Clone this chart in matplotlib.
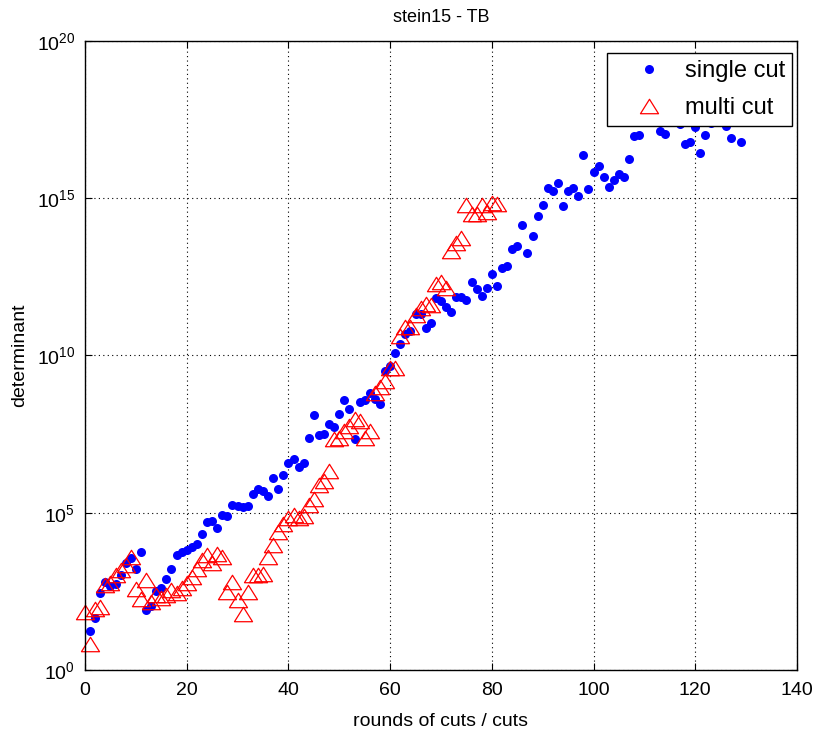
import numpy as np
import matplotlib.pyplot as plt
from matplotlib.path import Path

plt.rcParams['font.family'] = ['Liberation Sans', 'DejaVu Sans']
plt.rcParams['mathtext.default'] = 'regular'

# log10 of the determinant, one value per round
single_log = [1.23, 1.66, 2.46, 2.81, 2.68, 2.74, 3.03, 3.41, 3.57, 3.22,
              3.76, 1.91, 2.04, 2.52, 2.62, 2.90, 3.22, 3.67, 3.76, 3.83,
              3.92, 3.99, 4.31, 4.69, 4.75, 4.53, 4.94, 4.91, 5.26, 5.20,
              5.17, 5.20, 5.58, 5.77, 5.68, 5.52, 6.09, 5.77, 6.19, 6.57,
              6.70, 6.44, 6.57, 7.37, 8.10, 7.46, 7.50, 7.81, 7.72, 8.13,
              8.58, 8.29, 7.34, 8.52, 8.58, 8.80, 8.61, 8.45, 9.51, 9.67,
              10.08, 10.37, 10.69, 10.78, 11.32, 11.32, 10.88, 11.04, 11.83, 11.74,
              11.55, 11.39, 11.87, 11.87, 11.77, 12.34, 12.12, 11.90, 12.15, 12.60,
              12.22, 12.79, 12.85, 13.40, 13.49, 14.16, 13.27, 13.81, 14.45, 14.77,
              15.31, 15.22, 15.47, 14.74, 15.22, 15.31, 15.06, 16.36, 15.28, 15.82,
              16.04, 15.66, 15.37, 15.57, 15.76, 15.69, 16.24, 16.97, 17.00, 17.60,
              17.90, 17.50, 17.13, 17.03, 17.80, 17.50, 17.35, 16.71, 16.78, 17.26,
              16.43, 17.00, 17.38, 17.60, 18.00, 17.29, 16.91, 17.50, 16.78]
single_x = np.arange(1, len(single_log) + 1)

multi_log = [1.85, 0.83, 1.95, 2.01, 2.71, 2.78, 3.03, 3.19, 3.35, 3.60,
             2.58, 2.26, 2.85, 2.17, 2.40, 2.30, 2.40, 2.55, 2.45, 2.60,
             2.75, 2.95, 3.20, 3.50, 3.65, 3.40, 3.68, 3.60, 2.49, 2.81,
             2.23, 1.79, 2.49, 3.03, 3.03, 3.06, 3.60, 3.96, 4.40, 4.63,
             4.82, 4.94, 4.82, 4.91, 5.26, 5.45, 5.87, 6.00, 6.32, 7.34,
             7.37, 7.59, 7.75, 7.97, 7.91, 7.37, 7.60, 8.80, 9.00, 9.20,
             9.60, 9.60, 10.62, 10.90, 10.90, 11.30, 11.50, 11.64, 11.60, 12.28,
             12.35, 12.15, 13.33, 13.59, 13.75, 14.77, 14.50, 14.50, 14.77, 14.55,
             14.86, 14.83]
multi_x = np.arange(0, len(multi_log))

x_ticks = [0, 20, 40, 60, 80, 100, 120, 140]
y_ticks = [1e0, 1e5, 1e10, 1e15, 1e20]
y_labels = ['$10^{0}$', '$10^{5}$', '$10^{10}$', '$10^{15}$', '$10^{20}$']

# triangle a bit wider than tall, like the MATLAB marker
tri = Path([(0, 0.8), (-1, -0.8), (1, -0.8), (0, 0.8)],
           [Path.MOVETO, Path.LINETO, Path.LINETO, Path.CLOSEPOLY])

fig = plt.figure(figsize=(8.19, 7.36), dpi=100)
ax = fig.add_axes([0.1038, 0.0897, 0.8693, 0.8546])

ax.semilogy(single_x, 10.0 ** np.array(single_log), 'o', color='#0000ff',
            markersize=6.5, markeredgewidth=0, label='single cut', clip_on=False)
ax.semilogy(multi_x, 10.0 ** np.array(multi_log), linestyle='none', marker=tri,
            markerfacecolor='none', markeredgecolor='#ff0000', markersize=13,
            markeredgewidth=0.9, label='multi cut', clip_on=False)

ax.set_xlim(0, 140)
ax.set_ylim(1e0, 1e20)
ax.set_xticks(x_ticks)
ax.set_yticks(y_ticks)
ax.set_yticklabels(y_labels)
ax.yaxis.set_minor_locator(plt.NullLocator())
ax.tick_params(axis='both', which='major', direction='in', top=True, right=True,
               length=5, width=0.8, labelsize=14)
ax.tick_params(axis='x', pad=9)
ax.tick_params(axis='y', pad=7)
ax.grid(True, linestyle=(0, (1, 3)), color='black', linewidth=0.8)

for s in ax.spines.values():
    s.set_linewidth(1.0)

ax.set_title('stein15 - TB', fontsize=13, pad=14)
ax.set_xlabel('rounds of cuts / cuts', fontsize=14, labelpad=10)
ax.set_ylabel('determinant', fontsize=14, labelpad=6)

leg = ax.legend(loc='upper right', bbox_to_anchor=(0.993, 0.981), borderaxespad=0,
                fontsize=17, fancybox=False, framealpha=1, edgecolor='black',
                handletextpad=0.0, borderpad=0.3, labelspacing=0.65, handlelength=3.0)
leg.get_frame().set_linewidth(1.0)

fig.savefig('out.png', dpi=100)
